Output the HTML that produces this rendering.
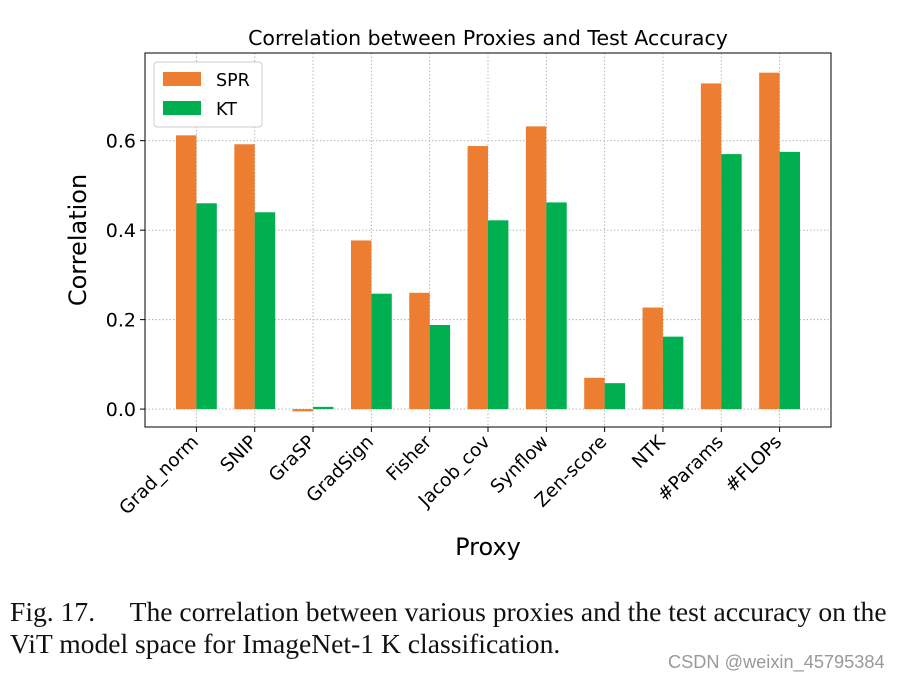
<!DOCTYPE html>
<html><head><meta charset="utf-8"><style>
body{margin:0;background:#fff;width:902px;height:678px;overflow:hidden;font-family:"DejaVu Sans","Liberation Sans",sans-serif}
</style></head><body>
<svg id="chart" width="902" height="580" style="position:absolute;left:0;top:0"></svg>
<div style="position:absolute;left:10px;top:596px;font-family:'Liberation Serif',serif;font-size:27.6px;line-height:32px;color:#111;white-space:nowrap">Fig. 17.&nbsp;&nbsp;&nbsp;&nbsp;&nbsp;The correlation between various proxies and the test accuracy on the<br>ViT model space for ImageNet-1 K classification.</div>
<div style="position:absolute;left:668px;top:652px;font-family:'Liberation Sans',sans-serif;font-size:18.2px;color:#999">CSDN @weixin_45795384</div>
<script>
const categories=["Grad_norm","SNIP","GraSP","GradSign","Fisher","Jacob_cov","Synflow","Zen-score","NTK","#Params","#FLOPs"];
const spr=[0.612,0.592,-0.005,0.377,0.26,0.588,0.632,0.07,0.227,0.728,0.752];
const kt=[0.46,0.44,0.005,0.258,0.188,0.422,0.462,0.058,0.162,0.57,0.575];
const yTicks=[0.0,0.2,0.4,0.6];
const NS="http://www.w3.org/2000/svg";
const svg=document.getElementById('chart');
const L=145,R=831,T=53,B=427,ymin=-0.04,ymax=0.796;
const step=(R-L-62)/(categories.length-1+0.7);
const x0=L+31+step*0.35;
function xs(i){return x0+i*step;}
function ys(v){return B-(v-ymin)/(ymax-ymin)*(B-T);}
const bw=step*0.35;
function el(t,a,txt){const e=document.createElementNS(NS,t);for(const k in a)e.setAttribute(k,a[k]);if(txt!==undefined)e.textContent=txt;svg.appendChild(e);return e;}
yTicks.forEach(v=>{
 const g=el('line',{x1:L,x2:R,y1:ys(v),y2:ys(v),stroke:'#b0b0b0','stroke-dasharray':'1.5,2','stroke-width':0.9});
 
 const t=el('line',{x1:L-5,x2:L,y1:ys(v),y2:ys(v),stroke:'#000'});
 
 const lb=el('text',{x:L-9,y:ys(v)+7,'text-anchor':'end','font-size':19},v.toFixed(1));
 
});
categories.forEach((c,i)=>{
 const g=el('line',{x1:xs(i),x2:xs(i),y1:T,y2:B,stroke:'#b0b0b0','stroke-dasharray':'1.5,2','stroke-width':0.9});
 
});
categories.forEach((c,i)=>{
 const a=el('rect',{x:xs(i)-bw,y:Math.min(ys(spr[i]),ys(0)),width:bw,height:Math.abs(ys(spr[i])-ys(0)),fill:'#ed7d31'});
 
 const b=el('rect',{x:xs(i),y:Math.min(ys(kt[i]),ys(0)),width:bw,height:Math.abs(ys(kt[i])-ys(0)),fill:'#00b050'});
 
 const t=el('line',{x1:xs(i),x2:xs(i),y1:B,y2:B+5,stroke:'#000'});
 
 const lb=el('text',{x:0,y:0,'text-anchor':'end','font-size':18.5,transform:`translate(${xs(i)+3},${B+16}) rotate(-45)`},c);
 
});
const fr=el('rect',{x:L,y:T,width:R-L,height:B-T,fill:'none',stroke:'#000','stroke-width':1});

const ti=el('text',{x:(L+R)/2,y:45,'text-anchor':'middle','font-size':20.5},'Correlation between Proxies and Test Accuracy');

const yl=el('text',{x:0,y:0,'text-anchor':'middle','font-size':24,transform:`translate(86,${(T+B)/2}) rotate(-90)`},'Correlation');

const xl=el('text',{x:488,y:555,'text-anchor':'middle','font-size':24},'Proxy');

const lg=el('rect',{x:154,y:62,width:108,height:65,fill:'#fff',stroke:'#ccc',rx:3});

const s1=el('rect',{x:163,y:72,width:38,height:14,fill:'#ed7d31'});

const t1=el('text',{x:216,y:86,'font-size':17.5},'SPR');

const s2=el('rect',{x:163,y:101,width:38,height:14,fill:'#00b050'});

const t2=el('text',{x:216,y:115,'font-size':17.5},'KT');

</script>
</body></html>
